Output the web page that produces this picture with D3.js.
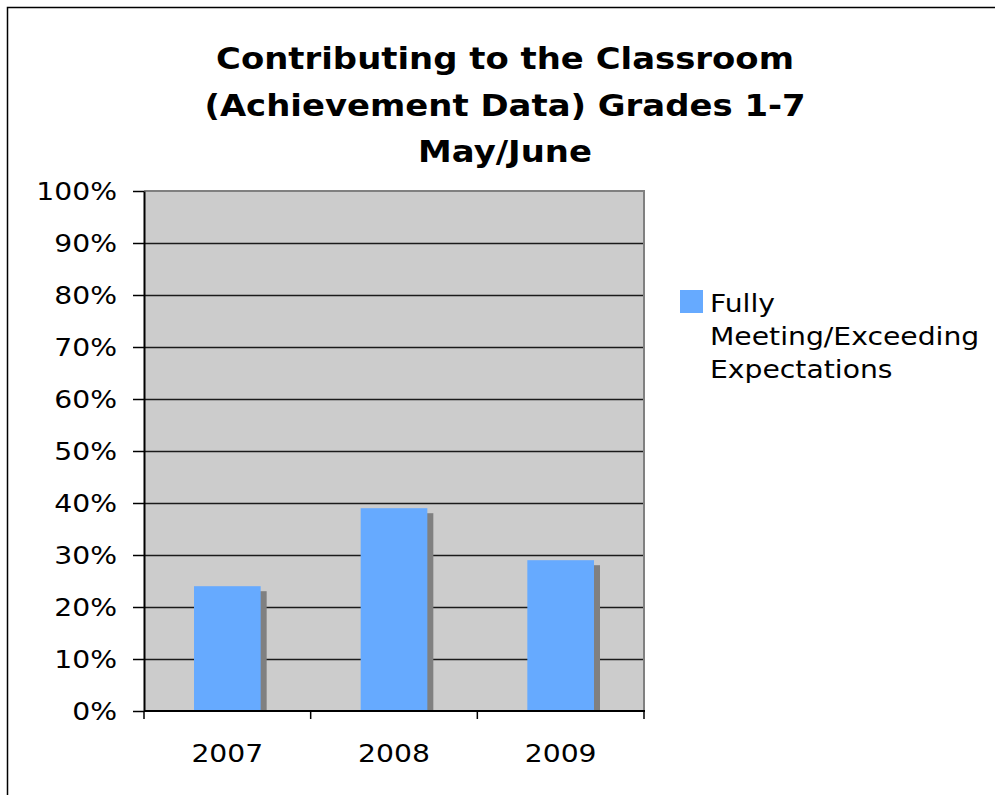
<!DOCTYPE html>
<html><head><meta charset="utf-8">
<script src="https://cdn.jsdelivr.net/npm/d3@7"></script>
<style>body{margin:0;background:#fff}svg{display:block}text{font-family:"DejaVu Sans",Verdana,sans-serif}</style>
</head><body>
<script>
const titleLines = ["Contributing to the Classroom","(Achievement Data) Grades 1-7","May/June"];
const categories = ["2007","2008","2009"];
const values = [24, 39, 29];
const seriesName = ["Fully","Meeting/Exceeding","Expectations"];
const yTicks = [0,10,20,30,40,50,60,70,80,90,100];

const W=995,H=795,SX=1.13;
const svg=d3.select("body").append("svg").attr("width",W).attr("height",H);
svg.append("rect").attr("x",7.5).attr("y",7.5).attr("width",W+10).attr("height",H+10).attr("fill","#fff").attr("stroke","#000").attr("stroke-width",1.5);

const L=144,R=644,T=191,B=711;
const x=d3.scaleBand().domain(categories).range([L,R]).paddingInner(0.6).paddingOuter(0.3);
const y=d3.scaleLinear().domain([0,100]).range([B,T]);

function stext(parent, data, fx, fy, anchor, size, weight, fmt){
  const g=parent.append("g").selectAll("g").data(data).join("g")
    .attr("transform",(d,i)=>`translate(${fx(d,i)},${fy(d,i)}) scale(${SX},1)`);
  g.append("text").attr("text-anchor",anchor).attr("font-size",size).attr("font-weight",weight||"normal")
    .attr("fill","#000").text((d,i)=>fmt?fmt(d,i):d);
  return g;
}

svg.append("rect").attr("x",L).attr("y",T).attr("width",R-L).attr("height",B-T).attr("fill","#cccccc");
svg.append("g").selectAll("line").data(yTicks.filter(d=>d>0&&d<100)).join("line")
  .attr("x1",L).attr("x2",R).attr("y1",d=>y(d)+0.5).attr("y2",d=>y(d)+0.5).attr("stroke","#1a1a1a").attr("stroke-width",1.3);
svg.append("path").attr("d",`M${L},${T}H${R}V${B}`).attr("fill","none").attr("stroke","#808080").attr("stroke-width",2);

svg.append("g").selectAll("rect").data(values).join("rect")
  .attr("x",(d,i)=>x(categories[i])+6).attr("y",d=>y(d)+5).attr("width",x.bandwidth()).attr("height",d=>B-y(d)-5).attr("fill","#808080");
svg.append("g").selectAll("rect").data(values).join("rect")
  .attr("x",(d,i)=>x(categories[i])).attr("y",d=>y(d)).attr("width",x.bandwidth()).attr("height",d=>B-y(d)).attr("fill","#66aaff");

// y axis
const ya=svg.append("g").attr("transform",`translate(${L},0)`).call(d3.axisLeft(y).tickValues(yTicks).tickFormat("").tickSize(11).tickSizeOuter(0));
ya.select(".domain").attr("stroke","#000").attr("stroke-width",2);
ya.selectAll(".tick line").attr("stroke","#000").attr("stroke-width",1.5);
stext(svg, yTicks, ()=>L-27, d=>y(d)+9, "end", 25, "normal", d=>d+"%");

// x axis
const xa=svg.append("g").attr("transform",`translate(0,${B})`);
xa.append("line").attr("x1",L).attr("x2",R+1).attr("y1",0).attr("y2",0).attr("stroke","#000").attr("stroke-width",2);
const xs=d3.scalePoint().domain(d3.range(categories.length+1)).range([L,R]);
xa.selectAll("line.t").data(d3.range(categories.length+1)).join("line").attr("class","t")
  .attr("x1",d=>xs(d)).attr("x2",d=>xs(d)).attr("y1",0).attr("y2",8).attr("stroke","#000").attr("stroke-width",1.5);
stext(svg, categories, d=>x(d)+x.bandwidth()/2, ()=>B+51, "middle", 25);

// title
stext(svg, titleLines, ()=>505, (d,i)=>69+i*46.5, "middle", 30, "bold");

// legend
svg.append("rect").attr("x",680).attr("y",290).attr("width",23).attr("height",23).attr("fill","#66aaff");
stext(svg, seriesName, ()=>710, (d,i)=>312+i*33, "start", 25);
</script>
</body></html>
